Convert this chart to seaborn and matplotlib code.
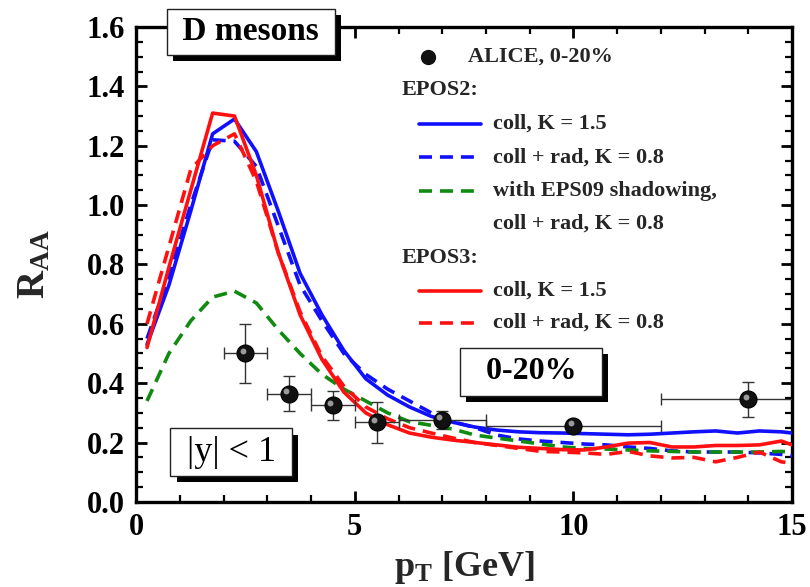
import numpy as np
import pandas as pd
import matplotlib
matplotlib.use("Agg")
import matplotlib.pyplot as plt
import matplotlib.transforms as mtransforms
import matplotlib.patheffects as pe
from matplotlib.lines import Line2D
from matplotlib.ticker import MultipleLocator, FormatStrFormatter
import seaborn as sns

# ---- data -------------------------------------------------------------
pt_grid = [0.25, 0.75, 1.25, 1.75, 2.25, 2.75, 3.25, 3.75, 4.25, 4.75,
           5.25, 5.75, 6.25, 6.75, 7.25, 7.75, 8.25, 8.75, 9.25, 9.75,
           10.25, 10.75, 11.25, 11.75, 12.25, 12.75, 13.25, 13.75, 14.25,
           14.75, 15.0]

epos2_coll = [0.53, 0.73, 0.98, 1.24, 1.29, 1.18, 0.98, 0.77, 0.63, 0.51,
              0.415, 0.36, 0.32, 0.288, 0.268, 0.252, 0.242, 0.236, 0.233,
              0.232, 0.230, 0.228, 0.226, 0.228, 0.232, 0.236, 0.239, 0.232,
              0.239, 0.236, 0.232]
epos2_collrad = [0.55, 0.76, 1.00, 1.22, 1.215, 1.13, 0.93, 0.73, 0.61, 0.50,
                 0.43, 0.38, 0.34, 0.30, 0.27, 0.25, 0.225, 0.212, 0.205,
                 0.200, 0.195, 0.192, 0.185, 0.180, 0.172, 0.168, 0.168,
                 0.168, 0.165, 0.160, 0.155]
epos2_eps09 = [0.34, 0.50, 0.61, 0.69, 0.71, 0.67, 0.58, 0.50, 0.43, 0.38,
               0.34, 0.30, 0.27, 0.258, 0.245, 0.225, 0.215, 0.205, 0.195,
               0.185, 0.180, 0.178, 0.175, 0.172, 0.170, 0.168, 0.168, 0.168,
               0.168, 0.170, 0.168]
epos3_coll = [0.52, 0.79, 1.05, 1.31, 1.30, 1.10, 0.84, 0.63, 0.48, 0.37,
              0.30, 0.26, 0.232, 0.218, 0.208, 0.200, 0.192, 0.184, 0.180,
              0.176, 0.175, 0.185, 0.198, 0.200, 0.185, 0.185, 0.190, 0.190,
              0.192, 0.205, 0.192]
epos3_collrad = [0.60, 0.86, 1.12, 1.20, 1.24, 1.08, 0.84, 0.64, 0.49, 0.39,
                 0.32, 0.28, 0.25, 0.232, 0.215, 0.200, 0.190, 0.180, 0.170,
                 0.168, 0.165, 0.160, 0.170, 0.155, 0.148, 0.150, 0.135,
                 0.150, 0.168, 0.135, 0.130]

alice_pt = [2.5, 3.5, 4.5, 5.5, 7.0, 10.0, 14.0]
alice_pt_err = [0.5, 0.5, 0.5, 0.5, 1.0, 2.0, 2.0]
alice_raa = [0.50, 0.365, 0.325, 0.268, 0.275, 0.256, 0.345]
alice_raa_err = [0.10, 0.06, 0.05, 0.07, 0.03, 0.01, 0.06]

# ---- style ------------------------------------------------------------
sns.set_theme(style="ticks")
plt.rcParams["font.family"] = ["Liberation Serif", "DejaVu Serif"]
plt.rcParams["font.weight"] = "bold"
plt.rcParams["mathtext.fontset"] = "custom"
plt.rcParams["mathtext.rm"] = "Liberation Serif:bold"
plt.rcParams["mathtext.it"] = "Liberation Serif:bold"
plt.rcParams["mathtext.bf"] = "Liberation Serif:bold"

fig = plt.figure(figsize=(8.10, 5.87), dpi=100)
ax = fig.add_axes([0.168, 0.145, 0.810, 0.809])

curves = pd.DataFrame({
    "pt": pt_grid,
    "epos2_coll": epos2_coll,
    "epos2_collrad": epos2_collrad,
    "epos2_eps09": epos2_eps09,
    "epos3_coll": epos3_coll,
    "epos3_collrad": epos3_collrad,
})

blue, green, red = "#1010ff", "#108a10", "#ff1010"
dash = (3.6, 2.2)
styles = [
    ("epos2_coll", blue, None),
    ("epos2_collrad", blue, dash),
    ("epos2_eps09", green, dash),
    ("epos3_coll", red, None),
    ("epos3_collrad", red, dash),
]
for col, color, dsh in styles:
    sns.lineplot(data=curves, x="pt", y=col, ax=ax, color=color,
                 linewidth=2.6, zorder=3)
    if dsh is not None:
        ax.lines[-1].set_dashes(dsh)

# ALICE data points with error bars
ax.errorbar(alice_pt, alice_raa, xerr=alice_pt_err, yerr=alice_raa_err,
            fmt="none", ecolor="#333333", elinewidth=1.0, capsize=4,
            capthick=1.0, zorder=4)
sns.scatterplot(x=alice_pt, y=alice_raa, ax=ax, s=150, color="#111111",
                edgecolor="black", linewidth=0.8, zorder=5)
shine = mtransforms.offset_copy(ax.transData, fig=fig, x=-2.0, y=2.0,
                                units="points")
ax.scatter(alice_pt, alice_raa, s=18, color="#9a9a9a", linewidths=0,
           transform=shine, zorder=6)

# ---- axes -------------------------------------------------------------
ax.set_xlim(0, 15)
ax.set_ylim(0, 1.6)
ax.xaxis.set_major_locator(MultipleLocator(5))
ax.xaxis.set_minor_locator(MultipleLocator(1))
ax.yaxis.set_major_locator(MultipleLocator(0.2))
ax.yaxis.set_minor_locator(MultipleLocator(0.05))
ax.yaxis.set_major_formatter(FormatStrFormatter("%.1f"))
ax.tick_params(which="both", direction="in", top=True, right=True,
               width=2.0, labelsize=22, pad=8, colors="black")
ax.tick_params(which="major", length=8)
ax.tick_params(which="minor", length=5, width=1.6)
for s in ax.spines.values():
    s.set_linewidth(2.4)
    s.set_color("black")
for lab in ax.get_xticklabels() + ax.get_yticklabels():
    lab.set_fontweight("bold")

ax.set_xlabel(r"p$_\mathregular{T}$ [GeV]", fontsize=26, fontweight="bold",
              labelpad=5)
ax.set_ylabel(r"R$_\mathregular{AA}$", fontsize=28, fontweight="bold",
              labelpad=24)


# ---- boxed labels with drop shadow -----------------------------------
def shadow_box(x, y, s, size, weight="bold", pad=0.3):
    t = ax.text(x, y, s, transform=ax.transAxes, fontsize=size,
                fontweight=weight, ha="center", va="center", color="black",
                zorder=10, clip_on=False,
                bbox=dict(boxstyle=f"square,pad={pad}", fc="white",
                          ec="#222222", lw=1.0))
    t.get_bbox_patch().set_path_effects([
        pe.SimplePatchShadow(offset=(4.5, -4.5), shadow_rgbFace="black",
                             alpha=1.0),
        pe.Normal(),
    ])
    return t


shadow_box(0.175, 0.99, " D mesons ", 24, pad=0.22)
shadow_box(0.602, 0.274, "  0-20%  ", 23, pad=0.3)
shadow_box(0.145, 0.105, " |y| < 1 ", 26, weight="normal", pad=0.2)

# ---- legend -----------------------------------------------------------
lfs = 16
ax.plot([0.445], [0.937], marker="o", markersize=10, color="#111111",
        transform=ax.transAxes, clip_on=False, zorder=7)
ax.text(0.506, 0.937, "ALICE, 0-20%", transform=ax.transAxes, fontsize=lfs,
        va="center", ha="left", fontweight="bold")
ax.text(0.405, 0.867, "EPOS2:", transform=ax.transAxes, fontsize=lfs,
        va="center", ha="left", fontweight="bold")
ax.text(0.405, 0.514, "EPOS3:", transform=ax.transAxes, fontsize=lfs,
        va="center", ha="left", fontweight="bold")
entries = [
    (0.796, blue, None, "coll, K = 1.5"),
    (0.726, blue, dash, "coll + rad, K = 0.8"),
    (0.655, green, dash, "with EPS09 shadowing,"),
    (0.444, red, None, "coll, K = 1.5"),
    (0.377, red, dash, "coll + rad, K = 0.8"),
]
for yy, color, dsh, label in entries:
    ln = Line2D([0.431, 0.525], [yy, yy], color=color, linewidth=2.6,
                transform=ax.transAxes)
    if dsh is not None:
        ln.set_dashes(dsh)
    ax.add_line(ln)
    ax.text(0.544, yy, label, transform=ax.transAxes, fontsize=lfs,
            va="center", ha="left", fontweight="bold")
ax.text(0.544, 0.585, "coll + rad, K = 0.8", transform=ax.transAxes,
        fontsize=lfs, va="center", ha="left", fontweight="bold")

fig.savefig("out.png", dpi=100)
